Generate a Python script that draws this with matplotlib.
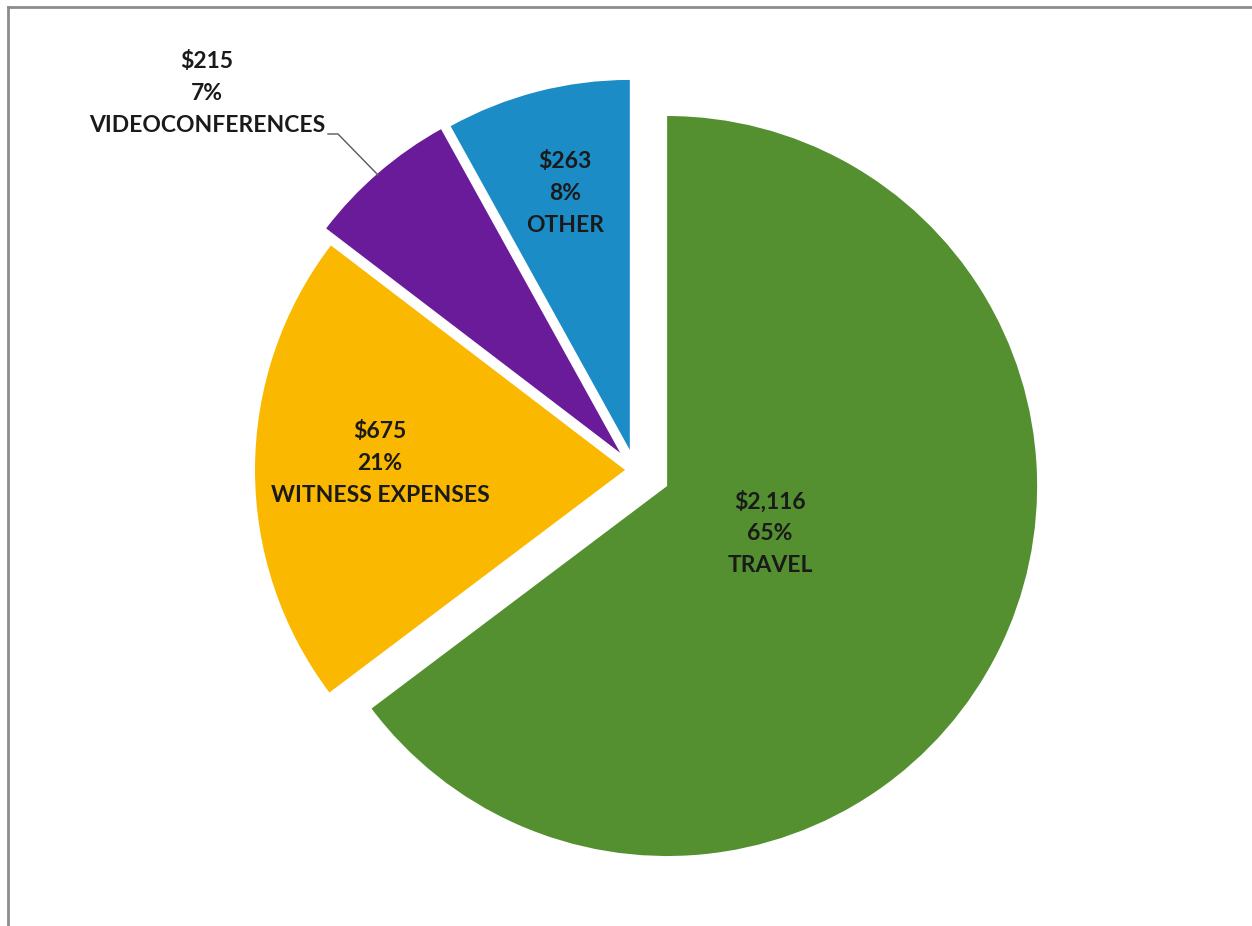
"""Expense breakdown pie: exploded slices with value / percent / name labels."""

import matplotlib.pyplot as plt
from matplotlib.lines import Line2D

W, H = 1252, 926
RADIUS = 370

categories = ["TRAVEL", "WITNESS EXPENSES", "VIDEOCONFERENCES", "OTHER"]
values = [2116, 675, 215, 263]
colors = ["#54902f", "#fbb800", "#6a1b9a", "#1b8cc6"]
explode = [0.097, 0.027, 0.061, 0.056]   # fraction of the radius

# label anchors in pixel coords (x centre, y of the middle line), y measured from top
label_pos = [(770, 534), (380, 463), (207, 93), (565, 193)]
LINE_GAP = 32

plt.rcParams["font.family"] = ["Lato", "DejaVu Sans"]

fig = plt.figure(figsize=(W / 100, H / 100), dpi=100)
ax = fig.add_axes([0, 0, 1, 1])

# pie() offsets wedges by explode in data units, so scale by the radius
wedges, _ = ax.pie(
    values,
    colors=colors,
    explode=[e * RADIUS for e in explode],
    startangle=90,
    counterclock=False,
    center=(635, H - 470),
    radius=RADIUS,
    wedgeprops=dict(linewidth=0),
)
# pie() resets the limits, so fix the pixel-like coordinate frame afterwards
ax.set_xlim(0, W)
ax.set_ylim(0, H)
ax.set_aspect("equal")
ax.axis("off")

total = sum(values)
for name, val, (x, y) in zip(categories, values, label_pos):
    lines = [f"${val:,}", f"{round(100 * val / total)}%", name]
    for i, txt in enumerate(lines):
        ax.text(x, H - (y + (i - 1) * LINE_GAP), txt, ha="center", va="center",
                fontsize=16.5, fontweight="bold", color="#1a1a1a")

# leader line for the small purple slice
ax.add_line(Line2D([328, 338, 378], [H - 134, H - 134, H - 175],
                   color="#595959", lw=1.0))

# partial outer frame (top and left edges)
fig.add_artist(Line2D([8 / W, 1], [1 - 7 / H, 1 - 7 / H],
                      transform=fig.transFigure, color="#8c8c8c", lw=2))
fig.add_artist(Line2D([8 / W, 8 / W], [0, 1 - 7 / H],
                      transform=fig.transFigure, color="#8c8c8c", lw=2))

fig.savefig("out.png", dpi=100)
